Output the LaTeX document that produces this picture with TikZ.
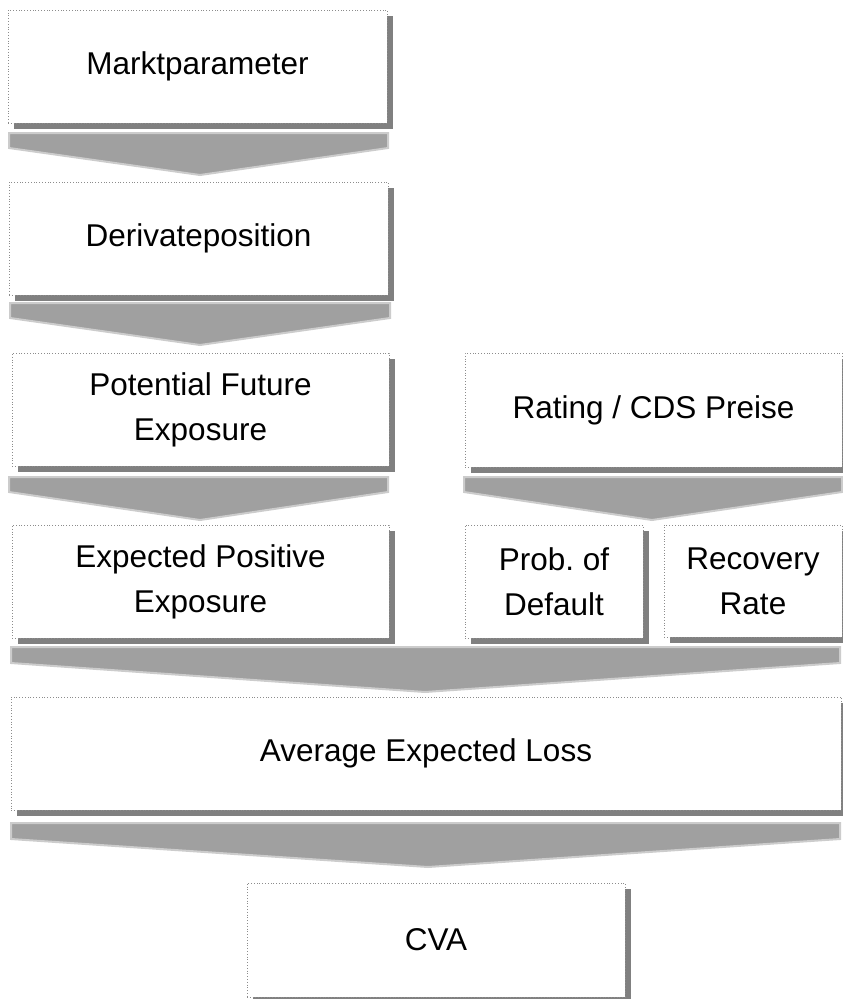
\documentclass[tikz,border=0pt]{standalone}
\usepackage{fontspec}
\setmainfont{Liberation Sans}
\frenchspacing
\usetikzlibrary{shadows}
\definecolor{shadowc}{HTML}{808080}
\definecolor{arrowfill}{HTML}{A0A0A0}
\definecolor{arrowedge}{HTML}{CCCCCC}
\definecolor{dotc}{HTML}{8C8C8C}
\begin{document}
\begin{tikzpicture}[x=1pt,y=-1pt,
  flowbox/.style={rectangle, draw=dotc, dotted, line width=0.8pt, fill=white,
    inner sep=0pt, outer sep=0pt, align=center,
    font={\fontsize{31.5}{45}\selectfont\frenchspacing},
    drop shadow={shadow xshift=6pt, shadow yshift=-6pt, fill=shadowc, opacity=1}},
  flowarrow/.style={fill=arrowfill, draw=arrowedge, line width=2pt, line join=miter}]
\useasboundingbox (0,0) rectangle (843,999);
\clip (0,0) rectangle (843,999);
\fill[white] (0,0) rectangle (843,999);

% boxes
\node[flowbox, minimum width=379pt, minimum height=113pt] (b1) at (197.5,66.5) {Marktparameter};
\node[flowbox, minimum width=379pt, minimum height=113pt] (b2) at (198.5,238.5) {Derivateposition};
\node[flowbox, minimum width=377pt, minimum height=113pt] (b3) at (200.5,409.5) {Potential Future\\Exposure};
\node[flowbox, minimum width=377pt, minimum height=113pt] (b4) at (200.5,581.5) {Expected Positive\\Exposure};
\node[flowbox, minimum width=377pt, minimum height=114pt] (b5) at (653.5,410) {Rating / CDS Preise};
\node[flowbox, minimum width=178pt, minimum height=113pt] (b6) at (554,581.5) {Prob. of\\Default};
\node[flowbox, minimum width=178pt, minimum height=112pt] (b7) at (753,581) {Recovery\\Rate};
\node[flowbox, minimum width=830pt, minimum height=113pt] (b8) at (426,753.5) {Average Expected Loss};
\node[flowbox, minimum width=378pt, minimum height=114pt] (b9) at (436,940) {CVA};

% block arrows
\draw[flowarrow] (9,133) -- (388,133) -- (388,148) -- (200,175) -- (9,148) -- cycle;
\draw[flowarrow] (10,303) -- (390,303) -- (390,318) -- (200,345) -- (10,318) -- cycle;
\draw[flowarrow] (9,477) -- (388,477) -- (388,492) -- (200,520) -- (9,492) -- cycle;
\draw[flowarrow] (464,477) -- (842,477) -- (842,492) -- (652,520) -- (464,492) -- cycle;
\draw[flowarrow] (11,647) -- (840,647) -- (840,663) -- (425,692) -- (11,663) -- cycle;
\draw[flowarrow] (11,823) -- (840,823) -- (840,839) -- (428,867) -- (11,839) -- cycle;
\end{tikzpicture}
\end{document}
